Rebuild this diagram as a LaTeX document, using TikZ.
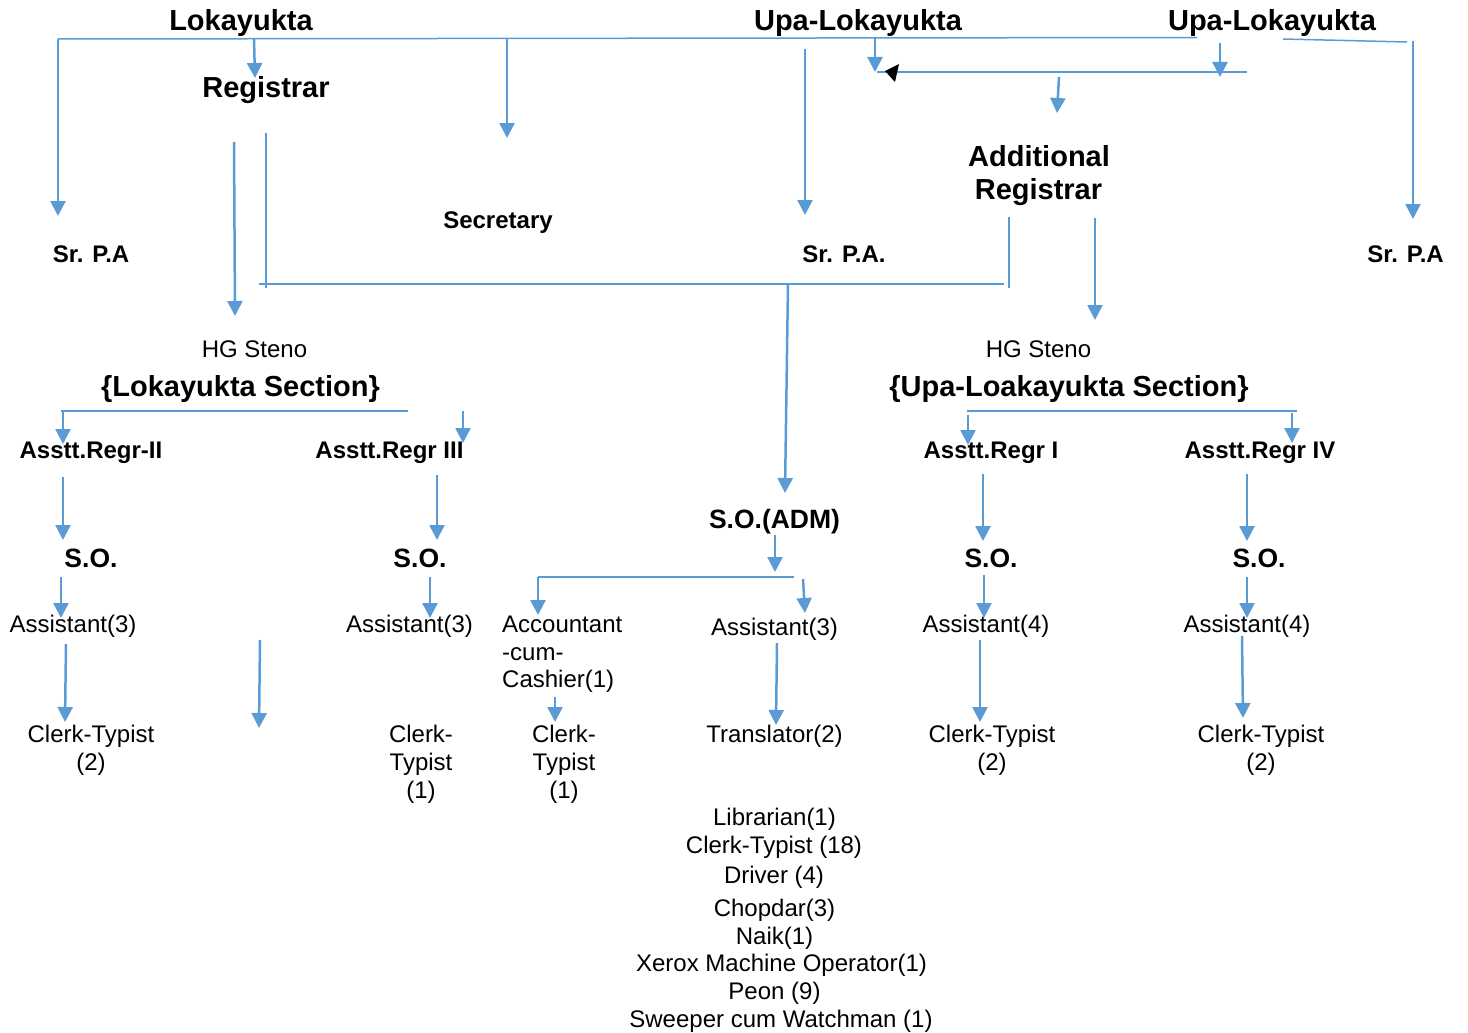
\documentclass[tikz,border=0pt]{standalone}
\usepackage{fontspec}
\setmainfont{Liberation Sans}
\usetikzlibrary{arrows.meta}
\definecolor{ublue}{RGB}{91,155,213}
\newcommand\myarrow[3]{\coordinate (#1s) at (#2); \coordinate (#1e) at (#3); \draw[arr] (#1s) -- (#1e);}
\newcommand\myline[3]{\coordinate (#1s) at (#2); \coordinate (#1e) at (#3); \draw[thinln] (#1s) -- (#1e);}
\begin{document}
\begin{tikzpicture}[x=1pt,y=-1pt,
  every node/.style={inner sep=0pt,anchor=base},
  big/.style={font=\fontsize{29}{34}\selectfont\bfseries},
  mid/.style={font=\fontsize{24}{28}\selectfont\bfseries},
  so/.style={font=\fontsize{26.5}{30}\selectfont\bfseries},
  reg/.style={font=\fontsize{24}{28}\selectfont},
  arr/.style={draw=ublue,line width=2.5pt,-{Triangle[length=15pt,width=15pt]}},
  thinln/.style={draw=ublue,line width=1.5pt},
  thickln/.style={draw=ublue,line width=2.5pt}]
\useasboundingbox (0,0) rectangle (1468,1033);

% ---------- text nodes ----------
\node[big] (lok) at (241,31) {Lokayukta};
\node[big] (upa1) at (858,31) {Upa-Lokayukta};
\node[big] (upa2) at (1272,31) {Upa-Lokayukta};
\node[big] (reg) at (266,98) {Registrar};
\node[mid] (sec) at (498,228.5) {Secretary};
\node[mid] (spa1) at (91,262.5) {Sr. P.A};
\node[mid] (spa2) at (844,262.5) {Sr. P.A.};
\node[mid] (spa3) at (1405.5,262.5) {Sr. P.A};
\node[big] (addA) at (1039,166.5) {Additional};
\node[big] (addB) at (1038.5,199.5) {Registrar};
\node[reg] (hg1) at (254.5,357.5) {HG Steno};
\node[reg] (hg2) at (1038.5,357.5) {HG Steno};
\node[big] (lsec) at (240.5,396.5) {\{Lokayukta Section\}};
\node[big] (usec) at (1069,396.5) {\{Upa-Loakayukta Section\}};
\node[mid] (ar2) at (91,458.5) {Asstt.Regr-II};
\node[mid] (ar3) at (389.5,458.5) {Asstt.Regr III};
\node[mid] (ar1) at (991,458.5) {Asstt.Regr I};
\node[mid] (ar4) at (1260,458.5) {Asstt.Regr IV};
\node[so] (soadm) at (774.5,528.5) {S.O.(ADM)};
\node[so] (so1) at (91,567) {S.O.};
\node[so] (so2) at (420,567) {S.O.};
\node[so] (so3) at (991,567) {S.O.};
\node[so] (so4) at (1259,567) {S.O.};
\node[reg] (as1) at (73,632.5) {Assistant(3)};
\node[reg] (as2) at (409.5,632.5) {Assistant(3)};
\node[reg] (as3) at (774.5,635.5) {Assistant(3)};
\node[reg] (as4) at (986,632.5) {Assistant(4)};
\node[reg] (as5) at (1247,632.5) {Assistant(4)};
\node[reg,anchor=base west] (acA) at (502,632.5) {Accountant};
\node[reg,anchor=base west] (acB) at (502,660.5) {-cum-};
\node[reg,anchor=base west] (acC) at (502,687.5) {Cashier(1)};
\node[reg] (ct1a) at (91,742.5) {Clerk-Typist};
\node[reg] (ct1b) at (91,770.5) {(2)};
\node[reg] (ct2a) at (421,742.5) {Clerk-};
\node[reg] (ct2b) at (421,770.5) {Typist};
\node[reg] (ct2c) at (421,798.5) {(1)};
\node[reg] (ct3a) at (564,742.5) {Clerk-};
\node[reg] (ct3b) at (564,770.5) {Typist};
\node[reg] (ct3c) at (564,798.5) {(1)};
\node[reg] (tr) at (774.5,742.5) {Translator(2)};
\node[reg] (ct4a) at (992,742.5) {Clerk-Typist};
\node[reg] (ct4b) at (992,770.5) {(2)};
\node[reg] (ct5a) at (1261,742.5) {Clerk-Typist};
\node[reg] (ct5b) at (1261,770.5) {(2)};
\node[reg] (l1) at (774.5,825.5) {Librarian(1)};
\node[reg] (l2) at (774,853.5) {Clerk-Typist (18)};
\node[reg] (l3) at (774,883.5) {Driver (4)};
\node[reg] (l4) at (774.5,916.5) {Chopdar(3)};
\node[reg] (l5) at (774.5,944.5) {Naik(1)};
\node[reg] (l6) at (781.5,971.5) {Xerox Machine Operator(1)};
\node[reg] (l7) at (774.5,999.5) {Peon (9)};
\node[reg] (l8) at (781,1027.5) {Sweeper cum Watchman (1)};

% ---------- top connectors ----------
\myline{top}{58,39}{1197,37.5}
\myline{topr}{1283,39}{1407,42}
\myarrow{a1}{58,39}{58,216}
\myarrow{a2}{254,39}{255,78}
\myarrow{a3}{507,39}{507,138}
\myarrow{a4}{805,49}{805,215}
\myarrow{a5}{875,38}{875,72}
\myline{mid}{877,72}{1247,72}
\myarrow{a6}{1220,43}{1220,77}
\myarrow{a7}{1059,77}{1057,113}
\myarrow{a8}{1413,41}{1413,219}
\fill[black] (885,71) -- (899,64) -- (895,82) -- cycle;

% ---------- registrar block ----------
\myarrow{a9}{234,142}{235,316}
\myline{v1}{266,133}{266,288}
\myline{hreg}{259,284}{1004,284}
\myline{v2}{1009,217}{1009,288}
\myarrow{a10}{1095,218}{1095,320}
\myarrow{a11}{788,284}{785,493}

% ---------- Lokayukta section ----------
\myline{ls}{61,411}{408,411}
\myarrow{a12}{63,411}{63,444}
\myarrow{a13}{463,411}{463,443}
\myarrow{a14}{63,477}{63,540}
\myarrow{a15}{437,475}{437,540}
\myarrow{a16}{61,577}{61,618}
\myarrow{a17}{430,577}{430,618}
\myarrow{a18}{66,644}{65,722}
\myarrow{a19}{260,640}{259,728}

% ---------- admin block ----------
\myarrow{a20}{775,535}{775,572}
\myline{adm}{538,577}{794,577}
\myarrow{a21}{538,577}{538,615}
\myarrow{a22}{803,579}{805,613}
\myarrow{a23}{555,697}{555,722}
\myarrow{a24}{777,643}{776,725}

% ---------- Upa section ----------
\myline{us}{967,411}{1297,411}
\myarrow{a25}{968,415}{968,445}
\myarrow{a26}{1292,413}{1292,443}
\myarrow{a27}{983,474}{983,541}
\myarrow{a28}{1247,474}{1247,541}
\myarrow{a29}{984,575}{984,618}
\myarrow{a30}{1247,577}{1247,618}
\myarrow{a31}{980,640}{980,722}
\myarrow{a32}{1242,636}{1243,718}
\end{tikzpicture}
\end{document}
